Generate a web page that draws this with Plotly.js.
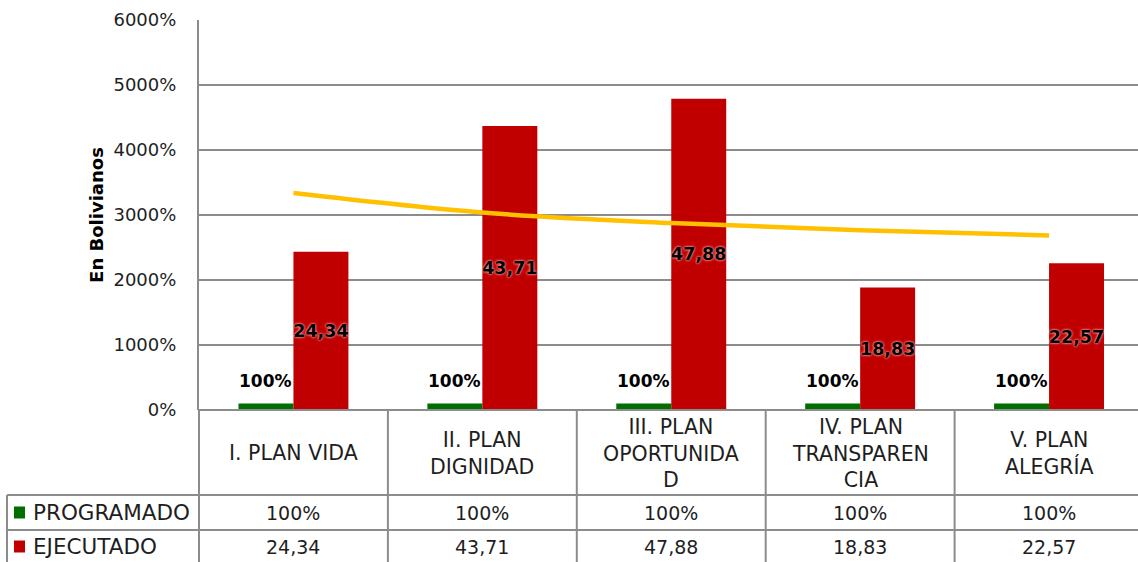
<!DOCTYPE html>
<html>
<head>
<meta charset="utf-8">
<script src="https://cdn.plot.ly/plotly-3.0.1.min.js"></script>
<style>
  html, body { margin: 0; padding: 0; background: #ffffff; }
  #chart { width: 1138px; height: 562px; }
</style>
</head>
<body>
<div id="chart"></div>
<script>
// ---- data ----
const categories = ['I. PLAN VIDA', 'II. PLAN DIGNIDAD', 'III. PLAN OPORTUNIDAD', 'IV. PLAN TRANSPARENCIA', 'V. PLAN ALEGRÍA'];
const categoryLabels = ['I. PLAN VIDA', 'II. PLAN<br>DIGNIDAD', 'III. PLAN<br>OPORTUNIDA<br>D', 'IV. PLAN<br>TRANSPAREN<br>CIA', 'V. PLAN<br>ALEGRÍA'];
const seriesNames = ['PROGRAMADO', 'EJECUTADO'];
const programado = [1, 1, 1, 1, 1];
const ejecutado = [24.34, 43.71, 47.88, 18.83, 22.57];
const tendencia = [33.38, 30.38, 28.76, 27.66, 26.85];
const yTickVals = [0, 10, 20, 30, 40, 50, 60];
const yTitle = 'En Bolivianos';

// ---- styling ----
const GREEN = '#006e00';
const RED = '#c00000';
const YELLOW = '#ffc000';
const GRID = '#8c8c8c';
const TXT = '#1e1e1e';
const FONT = 'DejaVu Sans, Arial, sans-serif';

const W = 1138, H = 562;
const M = { l: 199, r: 0, t: 20, b: 152 };
const plotW = W - M.l - M.r;
const plotH = H - M.t - M.b;
const catPx = 188.9;                       // pixel width of one category
const xMax = -0.5 + plotW / catPx;         // plot area runs slightly past the page edge
const X = p => (p - M.l) / plotW;          // pixel -> paper
const Y = p => (M.t + plotH - p) / plotH;  // pixel -> paper
const catCenterPx = i => M.l + (i + 0.5) * catPx;

const fmtPct = v => Math.round(v * 100) + '%';
const fmtNum = v => v.toFixed(2).replace('.', ',');

const traces = [
  {
    type: 'bar', name: seriesNames[0], x: categories, y: programado,
    marker: { color: GREEN }, hoverinfo: 'skip'
  },
  {
    type: 'bar', name: seriesNames[1], x: categories, y: ejecutado,
    marker: { color: RED }, hoverinfo: 'skip',
    text: ejecutado.map(v => '<b>' + fmtNum(v) + '</b>'),
    textposition: 'inside', insidetextanchor: 'middle', textangle: 0,
    constraintext: 'none', cliponaxis: false,
    insidetextfont: { family: FONT, size: 17.5, color: '#000000',
      shadow: '0 0 2px #ffb4b4, 0 0 3px #ff9a9a' }
  },
  {
    type: 'scatter', mode: 'lines', x: categories, y: tendencia,
    line: { color: YELLOW, width: 4.5, shape: 'spline' }, hoverinfo: 'skip'
  }
];

const shapes = [];
const lineStyle = { color: GRID, width: 2 };
// y axis continued down through the table
shapes.push({ type: 'line', xref: 'paper', yref: 'paper', x0: 0, x1: 0, y0: Y(410), y1: Y(575), line: lineStyle });
// column dividers
for (let i = 0; i < categories.length; i++) {
  const xp = M.l + (i + 1) * catPx;
  shapes.push({ type: 'line', xref: 'paper', yref: 'paper', x0: X(xp), x1: X(xp), y0: Y(410), y1: Y(575), line: lineStyle });
}
// legend column left border
shapes.push({ type: 'line', xref: 'paper', yref: 'paper', x0: X(7), x1: X(7), y0: Y(495), y1: Y(575), line: lineStyle });
// row borders
[495, 530].forEach(p => {
  shapes.push({ type: 'line', xref: 'paper', yref: 'paper', x0: X(7), x1: X(W + 10), y0: Y(p), y1: Y(p), line: lineStyle });
});
// top border of table (x axis line)
shapes.push({ type: 'line', xref: 'paper', yref: 'paper', x0: 0, x1: X(W + 10), y0: Y(410), y1: Y(410), line: lineStyle });
// legend keys
const keyColors = [GREEN, RED];
const rowCenters = [512.5, 546.5];
keyColors.forEach((c, k) => {
  shapes.push({ type: 'rect', xref: 'paper', yref: 'paper', x0: X(14), x1: X(25),
    y0: Y(rowCenters[k] + 6), y1: Y(rowCenters[k] - 6), fillcolor: c, line: { width: 0 } });
});

const annotations = [];
// category labels (table header row)
categoryLabels.forEach((lab, i) => {
  annotations.push({ xref: 'paper', yref: 'paper', x: X(catCenterPx(i)), y: Y(453),
    xanchor: 'center', yanchor: 'middle', text: lab, showarrow: false, align: 'center',
    font: { family: FONT, size: 20.5, color: TXT } });
});
// row headers
seriesNames.forEach((n, k) => {
  annotations.push({ xref: 'paper', yref: 'paper', x: X(31), y: Y(rowCenters[k]),
    xanchor: 'left', yanchor: 'middle', text: n, showarrow: false,
    font: { family: FONT, size: 21.5, color: TXT } });
});
// row values
[programado.map(fmtPct), ejecutado.map(fmtNum)].forEach((row, k) => {
  row.forEach((t, i) => {
    annotations.push({ xref: 'paper', yref: 'paper', x: X(catCenterPx(i)), y: Y(rowCenters[k]),
      xanchor: 'center', yanchor: 'middle', text: t, showarrow: false,
      font: { family: FONT, size: 19, color: TXT } });
  });
});
// "100%" data labels above the green bars
programado.forEach((v, i) => {
  annotations.push({ xref: 'x', yref: 'y', x: categories[i], y: v, xshift: -27.5, yshift: 11,
    xanchor: 'center', yanchor: 'bottom', text: '<b>' + fmtPct(v) + '</b>', showarrow: false,
    font: { family: FONT, size: 17, color: '#000000' } });
});

const layout = {
  width: W, height: H,
  margin: M,
  paper_bgcolor: '#ffffff', plot_bgcolor: '#ffffff',
  showlegend: false,
  barmode: 'group', bargap: 0.418, bargroupgap: 0,
  separators: ',.',
  font: { family: FONT, color: TXT },
  xaxis: {
    type: 'category', range: [-0.5, xMax], showticklabels: false,
    showgrid: false, zeroline: false, showline: false, ticks: '', fixedrange: true
  },
  yaxis: {
    range: [0, 60], tickvals: yTickVals, tickformat: '.0%',
    showgrid: true, gridcolor: GRID, gridwidth: 2,
    zeroline: false, showline: true, linecolor: GRID, linewidth: 2,
    ticks: '', ticklabelstandoff: 17,
    tickfont: { family: FONT, size: 18, color: TXT },
    title: { text: '<b>' + yTitle + '</b>', standoff: 5,
      font: { family: FONT, size: 18, color: '#000000' } },
    fixedrange: true
  },
  shapes: shapes,
  annotations: annotations
};

Plotly.newPlot('chart', traces, layout, { staticPlot: true, displayModeBar: false });
</script>
</body>
</html>
